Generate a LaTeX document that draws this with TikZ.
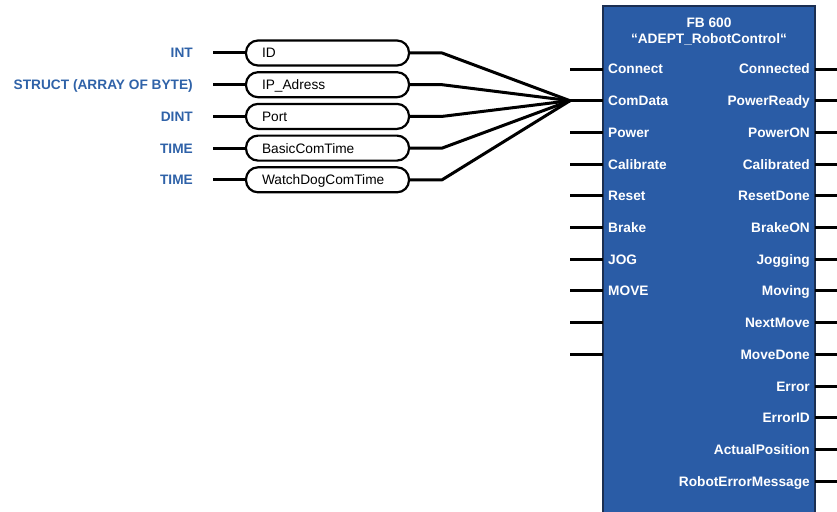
\documentclass[tikz,border=0pt]{standalone}
\usepackage{fontspec}
\setmainfont{Liberation Sans}
\usetikzlibrary{positioning}
\definecolor{fbblue}{HTML}{2A5CA6}
\definecolor{fbedge}{HTML}{1B2F52}
\definecolor{typeblue}{HTML}{2F62A8}

\begin{document}
\begin{tikzpicture}[x=1pt,y=-1pt,
    font=\fontsize{13.7}{15.5}\selectfont,
    wire/.style={line width=3pt,line join=round},
    pill/.style={draw,line width=2.2pt,rounded corners=12pt,minimum height=25pt,
      text width=131pt,text height=9.8pt,text depth=0pt,inner xsep=16pt,inner ysep=0pt,align=left},
    typelbl/.style={anchor=base east,inner sep=0pt,text=typeblue,font=\fontsize{13.7}{15.5}\selectfont\bfseries},
    pinin/.style={anchor=base west,inner sep=0pt,text=white,font=\fontsize{13.7}{15.5}\selectfont\bfseries},
    pinout/.style={anchor=base east,inner sep=0pt,text=white,font=\fontsize{13.7}{15.5}\selectfont\bfseries}]
  \useasboundingbox (0,0) rectangle (837,511);
  % function block
  \draw[fill=fbblue,draw=fbedge,line width=1.5pt] (603,6) rectangle (815,530);
  \node[align=center,text=white,font=\fontsize{13.7}{15.5}\selectfont\bfseries] (title) at (709,31.5)
    {FB 600\\“ADEPT\_RobotControl“};
  % inputs
  \foreach \lbl [count=\i from 0] in {Connect,ComData,Power,Calibrate,Reset,Brake,JOG,MOVE,{},{}}{
    \coordinate (in\i) at (570,69+31.7*\i);
    \coordinate (inb\i) at (603,69+31.7*\i);
    \draw[wire] (in\i) -- (inb\i);
    \node[pinin] (li\i) at (608,74+31.7*\i) {\lbl};
  }
  % outputs
  \foreach \lbl [count=\i from 0] in {Connected,PowerReady,PowerON,Calibrated,ResetDone,BrakeON,Jogging,
      Moving,NextMove,MoveDone,Error,ErrorID,ActualPosition,RobotErrorMessage}{
    \coordinate (outb\i) at (815,69+31.7*\i);
    \coordinate (out\i) at (837,69+31.7*\i);
    \draw[wire] (outb\i) -- (out\i);
    \node[pinout] (lo\i) at (810,74+31.7*\i) {\lbl};
  }
  % ComData structure
  \foreach \txt/\type [count=\i from 0] in {ID/INT,IP\_Adress/{STRUCT (ARRAY OF BYTE)},Port/DINT,
      BasicComTime/TIME,WatchDogComTime/TIME}{
    \node[pill] (p\i) at (327.5,53+31.7*\i) {\txt};
    \coordinate (s\i) at (213,53+31.7*\i);
    \node[typelbl] (t\i) at (193,58+31.7*\i) {\type};
    \draw[wire] (s\i) -- (p\i.west);
    \draw[wire] (p\i.east) -- ++(32,0) -- (in1);
  }
\end{tikzpicture}
\end{document}
